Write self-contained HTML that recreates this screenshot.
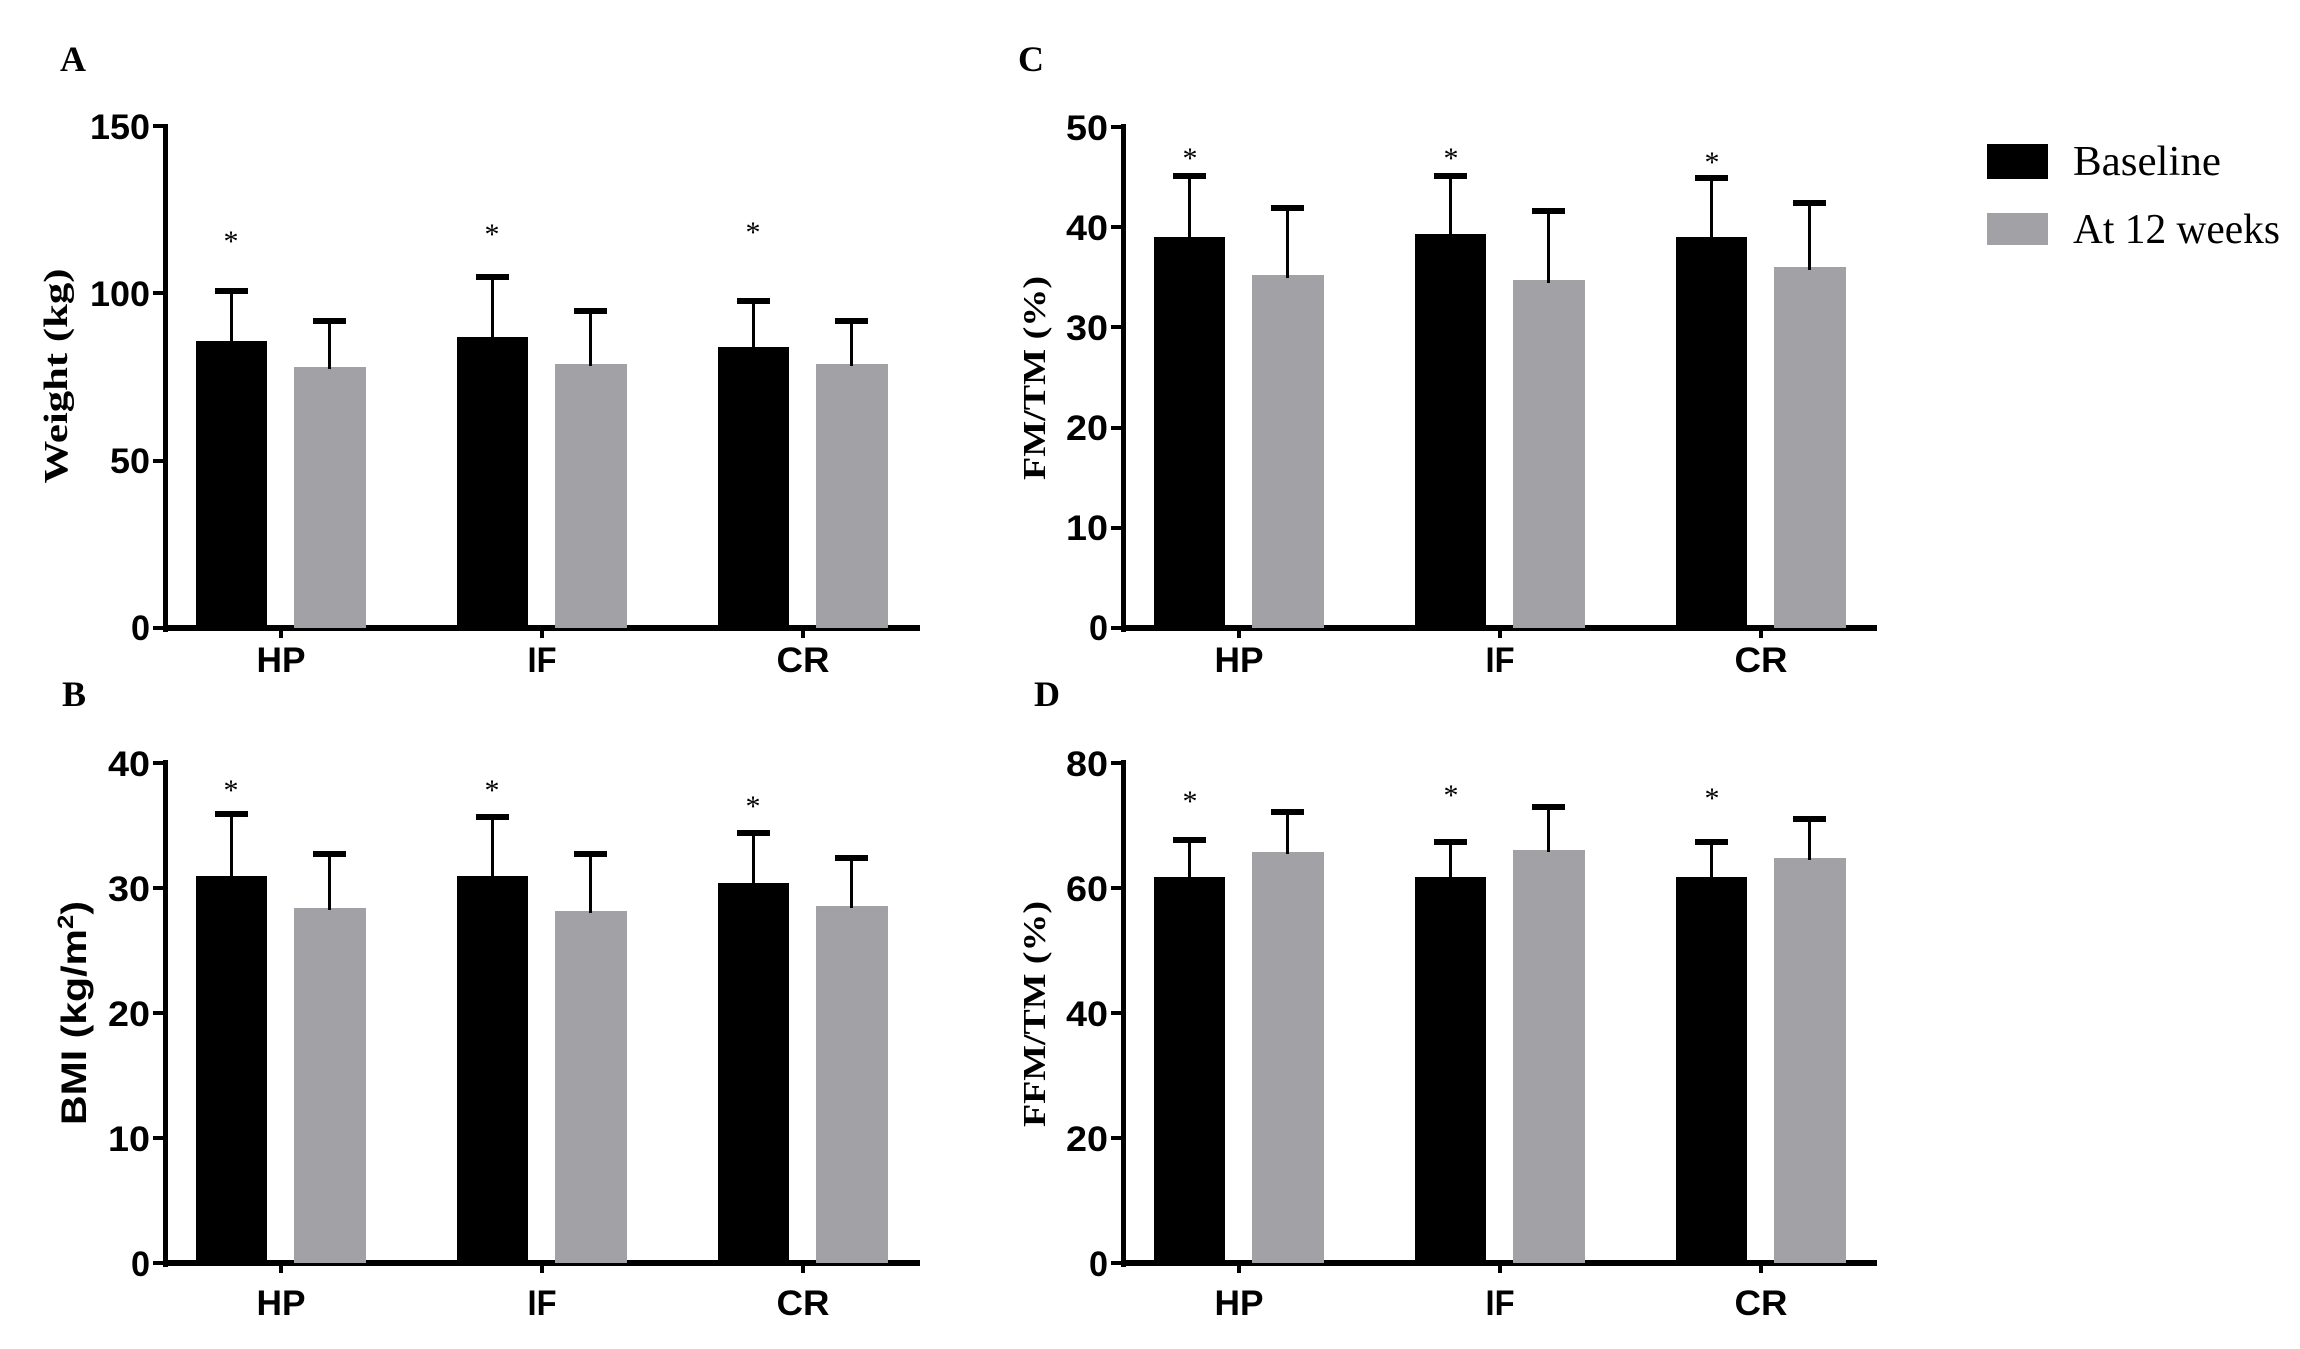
<!DOCTYPE html>
<html><head><meta charset="utf-8"><style>
html,body{margin:0;padding:0;background:#fff}
svg{display:block}
.t{font-family:"Liberation Sans",Arial,sans-serif;font-weight:bold;font-size:35px;fill:#000}
.s{font-family:"Liberation Serif","Times New Roman",serif;font-weight:bold;fill:#000}
.st{font-family:"Liberation Serif",serif;font-size:30px;fill:#000;text-anchor:middle}
</style></head><body>
<svg width="2300" height="1349" viewBox="0 0 2300 1349" xmlns="http://www.w3.org/2000/svg">
<rect width="2300" height="1349" fill="#fff"/>

<text class="s" x="60" y="71" font-size="36">A</text>
<text class="s" x="62" y="706" font-size="36">B</text>
<text class="s" x="1018" y="71" font-size="36">C</text>
<text class="s" x="1034" y="706" font-size="36">D</text>

<!-- ===== Panel A ===== -->
<g>
<rect x="163" y="124" width="5" height="508" fill="#000"/>
<rect x="163" y="625" width="757" height="6" fill="#000"/>
<rect x="153" y="124" width="12" height="4" fill="#000"/>
<rect x="153" y="459" width="12" height="4" fill="#000"/>
<rect x="153" y="291" width="12" height="4" fill="#000"/>
<rect x="153" y="626" width="12" height="4" fill="#000"/>
<rect x="279" y="628" width="4" height="10" fill="#000"/>
<rect x="540" y="628" width="4" height="10" fill="#000"/>
<rect x="801" y="628" width="4" height="10" fill="#000"/>
<text class="t" x="150" y="139" text-anchor="end" textLength="60" lengthAdjust="spacingAndGlyphs">150</text>
<text class="t" x="150" y="306" text-anchor="end" textLength="60" lengthAdjust="spacingAndGlyphs">100</text>
<text class="t" x="150" y="473" text-anchor="end" textLength="40" lengthAdjust="spacingAndGlyphs">50</text>
<text class="t" x="150" y="640" text-anchor="end" textLength="19" lengthAdjust="spacingAndGlyphs">0</text>
<text class="t" x="281" y="672" text-anchor="middle" textLength="49" lengthAdjust="spacingAndGlyphs">HP</text>
<text class="t" x="542" y="672" text-anchor="middle" textLength="29" lengthAdjust="spacingAndGlyphs">IF</text>
<text class="t" x="803" y="672" text-anchor="middle" textLength="53" lengthAdjust="spacingAndGlyphs">CR</text>
<text class="s" font-size="34" transform="translate(67,376) rotate(-90)" text-anchor="middle" textLength="215" lengthAdjust="spacingAndGlyphs">Weight (kg)</text>
<rect x="196" y="341" width="71" height="287" fill="#000"/>
<rect x="294" y="367" width="72" height="261" fill="#a2a2a6"/>
<rect x="457" y="337" width="71" height="291" fill="#000"/>
<rect x="555" y="364" width="72" height="264" fill="#a2a2a6"/>
<rect x="718" y="347" width="71" height="281" fill="#000"/>
<rect x="816" y="364" width="72" height="264" fill="#a2a2a6"/>
<rect x="230" y="291" width="3" height="52" fill="#000"/><rect x="215" y="288" width="33" height="6" fill="#000"/>
<rect x="328" y="321" width="3" height="48" fill="#000"/><rect x="313" y="318" width="33" height="6" fill="#000"/>
<rect x="491" y="277" width="3" height="62" fill="#000"/><rect x="476" y="274" width="33" height="6" fill="#000"/>
<rect x="589" y="311" width="3" height="55" fill="#000"/><rect x="574" y="308" width="33" height="6" fill="#000"/>
<rect x="752" y="301" width="3" height="48" fill="#000"/><rect x="737" y="298" width="33" height="6" fill="#000"/>
<rect x="850" y="321" width="3" height="45" fill="#000"/><rect x="835" y="318" width="33" height="6" fill="#000"/>
<text class="st" x="231" y="251">*</text>
<text class="st" x="492" y="244">*</text>
<text class="st" x="753" y="242">*</text>
</g>

<!-- ===== Panel C ===== -->
<g>
<rect x="1121" y="124" width="5" height="508" fill="#000"/>
<rect x="1121" y="625" width="756" height="6" fill="#000"/>
<rect x="1111" y="125" width="12" height="4" fill="#000"/>
<rect x="1111" y="225" width="12" height="4" fill="#000"/>
<rect x="1111" y="325" width="12" height="4" fill="#000"/>
<rect x="1111" y="426" width="12" height="4" fill="#000"/>
<rect x="1111" y="526" width="12" height="4" fill="#000"/>
<rect x="1111" y="626" width="12" height="4" fill="#000"/>
<rect x="1237" y="628" width="4" height="10" fill="#000"/>
<rect x="1498" y="628" width="4" height="10" fill="#000"/>
<rect x="1759" y="628" width="4" height="10" fill="#000"/>
<text class="t" x="1108" y="140" text-anchor="end" textLength="42" lengthAdjust="spacingAndGlyphs">50</text>
<text class="t" x="1108" y="240" text-anchor="end" textLength="42" lengthAdjust="spacingAndGlyphs">40</text>
<text class="t" x="1108" y="340" text-anchor="end" textLength="42" lengthAdjust="spacingAndGlyphs">30</text>
<text class="t" x="1108" y="440" text-anchor="end" textLength="42" lengthAdjust="spacingAndGlyphs">20</text>
<text class="t" x="1108" y="540" text-anchor="end" textLength="42" lengthAdjust="spacingAndGlyphs">10</text>
<text class="t" x="1108" y="640" text-anchor="end" textLength="19" lengthAdjust="spacingAndGlyphs">0</text>
<text class="t" x="1239" y="672" text-anchor="middle" textLength="49" lengthAdjust="spacingAndGlyphs">HP</text>
<text class="t" x="1500" y="672" text-anchor="middle" textLength="29" lengthAdjust="spacingAndGlyphs">IF</text>
<text class="t" x="1761" y="672" text-anchor="middle" textLength="53" lengthAdjust="spacingAndGlyphs">CR</text>
<text class="s" font-size="32" transform="translate(1045,378) rotate(-90)" text-anchor="middle" textLength="204" lengthAdjust="spacingAndGlyphs">FM/TM (%)</text>
<rect x="1154" y="237" width="71" height="391" fill="#000"/>
<rect x="1252" y="275" width="72" height="353" fill="#a2a2a6"/>
<rect x="1415" y="234" width="71" height="394" fill="#000"/>
<rect x="1513" y="280" width="72" height="348" fill="#a2a2a6"/>
<rect x="1676" y="237" width="71" height="391" fill="#000"/>
<rect x="1774" y="267" width="72" height="361" fill="#a2a2a6"/>
<rect x="1188" y="176" width="3" height="62" fill="#000"/><rect x="1173" y="173" width="33" height="6" fill="#000"/>
<rect x="1286" y="208" width="3" height="70" fill="#000"/><rect x="1271" y="205" width="33" height="6" fill="#000"/>
<rect x="1449" y="176" width="3" height="59" fill="#000"/><rect x="1434" y="173" width="33" height="6" fill="#000"/>
<rect x="1547" y="211" width="3" height="72" fill="#000"/><rect x="1532" y="208" width="33" height="6" fill="#000"/>
<rect x="1710" y="178" width="3" height="60" fill="#000"/><rect x="1695" y="175" width="33" height="6" fill="#000"/>
<rect x="1808" y="203" width="3" height="67" fill="#000"/><rect x="1793" y="200" width="33" height="6" fill="#000"/>
<text class="st" x="1190" y="168">*</text>
<text class="st" x="1451" y="168">*</text>
<text class="st" x="1712" y="172">*</text>
</g>

<rect x="1987" y="144" width="61" height="35" fill="#000"/>
<rect x="1987" y="213" width="61" height="32" fill="#a2a2a6"/>
<text class="s" style="font-weight:normal" font-size="42" x="2073" y="175" textLength="148" lengthAdjust="spacingAndGlyphs">Baseline</text>
<text class="s" style="font-weight:normal" font-size="42" x="2073" y="243" textLength="207" lengthAdjust="spacingAndGlyphs">At 12 weeks</text>

<!-- ===== Panel B ===== -->
<g>
<rect x="163" y="760" width="5" height="507" fill="#000"/>
<rect x="163" y="1260" width="757" height="6" fill="#000"/>
<rect x="153" y="761" width="12" height="4" fill="#000"/>
<rect x="153" y="886" width="12" height="4" fill="#000"/>
<rect x="153" y="1011" width="12" height="4" fill="#000"/>
<rect x="153" y="1136" width="12" height="4" fill="#000"/>
<rect x="153" y="1261" width="12" height="4" fill="#000"/>
<rect x="279" y="1263" width="4" height="10" fill="#000"/>
<rect x="540" y="1263" width="4" height="10" fill="#000"/>
<rect x="801" y="1263" width="4" height="10" fill="#000"/>
<text class="t" x="150" y="776" text-anchor="end" textLength="42" lengthAdjust="spacingAndGlyphs">40</text>
<text class="t" x="150" y="901" text-anchor="end" textLength="42" lengthAdjust="spacingAndGlyphs">30</text>
<text class="t" x="150" y="1026" text-anchor="end" textLength="42" lengthAdjust="spacingAndGlyphs">20</text>
<text class="t" x="150" y="1151" text-anchor="end" textLength="42" lengthAdjust="spacingAndGlyphs">10</text>
<text class="t" x="150" y="1276" text-anchor="end" textLength="19" lengthAdjust="spacingAndGlyphs">0</text>
<text class="t" x="281" y="1315" text-anchor="middle" textLength="49" lengthAdjust="spacingAndGlyphs">HP</text>
<text class="t" x="542" y="1315" text-anchor="middle" textLength="29" lengthAdjust="spacingAndGlyphs">IF</text>
<text class="t" x="803" y="1315" text-anchor="middle" textLength="53" lengthAdjust="spacingAndGlyphs">CR</text>
<text class="t" font-size="36" transform="translate(86,1013) rotate(-90)" text-anchor="middle" textLength="224" lengthAdjust="spacingAndGlyphs">BMI (kg/m<tspan font-size="22" dy="-13">2</tspan><tspan dy="13">)</tspan></text>
<rect x="196" y="876" width="71" height="387" fill="#000"/>
<rect x="294" y="908" width="72" height="355" fill="#a2a2a6"/>
<rect x="457" y="876" width="71" height="387" fill="#000"/>
<rect x="555" y="911" width="72" height="352" fill="#a2a2a6"/>
<rect x="718" y="883" width="71" height="380" fill="#000"/>
<rect x="816" y="906" width="72" height="357" fill="#a2a2a6"/>
<rect x="230" y="814" width="3" height="63" fill="#000"/><rect x="215" y="811" width="33" height="6" fill="#000"/>
<rect x="328" y="854" width="3" height="56" fill="#000"/><rect x="313" y="851" width="33" height="6" fill="#000"/>
<rect x="491" y="817" width="3" height="60" fill="#000"/><rect x="476" y="814" width="33" height="6" fill="#000"/>
<rect x="589" y="854" width="3" height="59" fill="#000"/><rect x="574" y="851" width="33" height="6" fill="#000"/>
<rect x="752" y="833" width="3" height="52" fill="#000"/><rect x="737" y="830" width="33" height="6" fill="#000"/>
<rect x="850" y="858" width="3" height="50" fill="#000"/><rect x="835" y="855" width="33" height="6" fill="#000"/>
<text class="st" x="231" y="800">*</text>
<text class="st" x="492" y="800">*</text>
<text class="st" x="753" y="816">*</text>
</g>

<!-- ===== Panel D ===== -->
<g>
<rect x="1121" y="760" width="5" height="507" fill="#000"/>
<rect x="1121" y="1260" width="756" height="6" fill="#000"/>
<rect x="1111" y="761" width="12" height="4" fill="#000"/>
<rect x="1111" y="886" width="12" height="4" fill="#000"/>
<rect x="1111" y="1011" width="12" height="4" fill="#000"/>
<rect x="1111" y="1136" width="12" height="4" fill="#000"/>
<rect x="1111" y="1261" width="12" height="4" fill="#000"/>
<rect x="1237" y="1263" width="4" height="10" fill="#000"/>
<rect x="1498" y="1263" width="4" height="10" fill="#000"/>
<rect x="1759" y="1263" width="4" height="10" fill="#000"/>
<text class="t" x="1108" y="776" text-anchor="end" textLength="42" lengthAdjust="spacingAndGlyphs">80</text>
<text class="t" x="1108" y="901" text-anchor="end" textLength="42" lengthAdjust="spacingAndGlyphs">60</text>
<text class="t" x="1108" y="1026" text-anchor="end" textLength="42" lengthAdjust="spacingAndGlyphs">40</text>
<text class="t" x="1108" y="1151" text-anchor="end" textLength="42" lengthAdjust="spacingAndGlyphs">20</text>
<text class="t" x="1108" y="1276" text-anchor="end" textLength="19" lengthAdjust="spacingAndGlyphs">0</text>
<text class="t" x="1239" y="1315" text-anchor="middle" textLength="49" lengthAdjust="spacingAndGlyphs">HP</text>
<text class="t" x="1500" y="1315" text-anchor="middle" textLength="29" lengthAdjust="spacingAndGlyphs">IF</text>
<text class="t" x="1761" y="1315" text-anchor="middle" textLength="53" lengthAdjust="spacingAndGlyphs">CR</text>
<text class="s" font-size="32" transform="translate(1045,1014) rotate(-90)" text-anchor="middle" textLength="226" lengthAdjust="spacingAndGlyphs">FFM/TM (%)</text>
<rect x="1154" y="877" width="71" height="386" fill="#000"/>
<rect x="1252" y="852" width="72" height="411" fill="#a2a2a6"/>
<rect x="1415" y="877" width="71" height="386" fill="#000"/>
<rect x="1513" y="850" width="72" height="413" fill="#a2a2a6"/>
<rect x="1676" y="877" width="71" height="386" fill="#000"/>
<rect x="1774" y="858" width="72" height="405" fill="#a2a2a6"/>
<rect x="1188" y="840" width="3" height="39" fill="#000"/><rect x="1173" y="837" width="33" height="6" fill="#000"/>
<rect x="1286" y="812" width="3" height="42" fill="#000"/><rect x="1271" y="809" width="33" height="6" fill="#000"/>
<rect x="1449" y="842" width="3" height="37" fill="#000"/><rect x="1434" y="839" width="33" height="6" fill="#000"/>
<rect x="1547" y="807" width="3" height="45" fill="#000"/><rect x="1532" y="804" width="33" height="6" fill="#000"/>
<rect x="1710" y="842" width="3" height="37" fill="#000"/><rect x="1695" y="839" width="33" height="6" fill="#000"/>
<rect x="1808" y="819" width="3" height="41" fill="#000"/><rect x="1793" y="816" width="33" height="6" fill="#000"/>
<text class="st" x="1190" y="811">*</text>
<text class="st" x="1451" y="805">*</text>
<text class="st" x="1712" y="808">*</text>
</g>
</svg>
</body></html>
